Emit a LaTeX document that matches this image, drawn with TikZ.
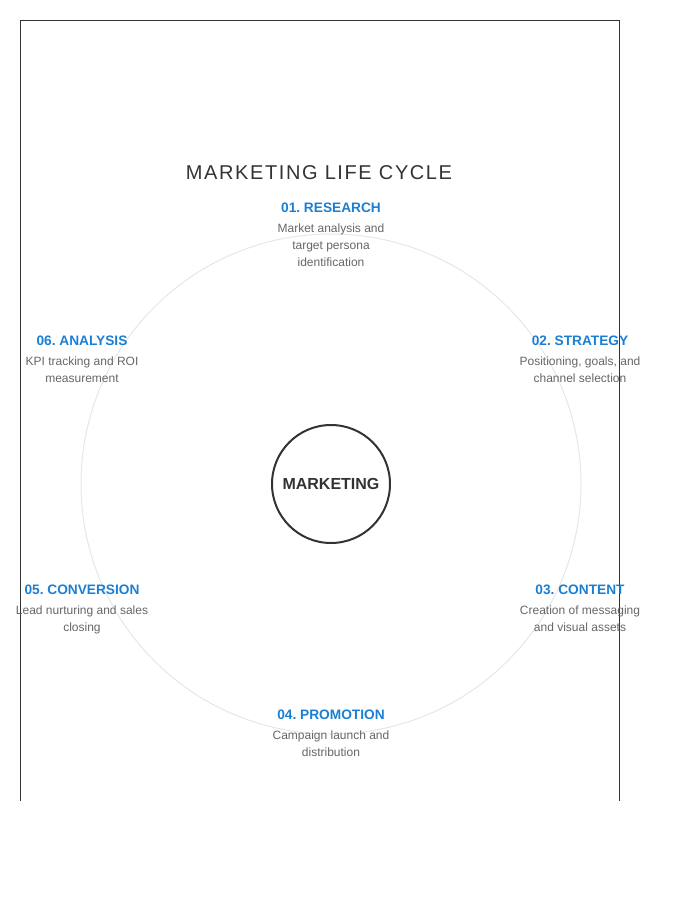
\documentclass[tikz,border=0pt]{standalone}
\usepackage{fontspec}
\setmainfont{Liberation Sans}
\newfontfamily\spacedfont[LetterSpace=8]{Liberation Sans}
\usetikzlibrary{positioning}
\frenchspacing
\definecolor{framegray}{HTML}{333333}
\definecolor{ringgray}{HTML}{E6E6E6}
\definecolor{stepblue}{HTML}{1A7FD4}
\definecolor{descgray}{HTML}{666666}
\tikzset{
	steptitle/.style={text=stepblue, font=\fontsize{13.7}{16}\selectfont\bfseries, inner sep=0pt},
	stepdesc/.style={text=descgray, font=\fontsize{12}{17}\selectfont, align=center, inner sep=0pt, below=11pt of #1},
	hub/.style={circle, draw=framegray, line width=2pt, minimum size=118pt, inner sep=0pt, text=framegray, font=\fontsize{16}{19}\selectfont\bfseries}
}

\begin{document}
\begin{tikzpicture}[x=1pt, y=-1pt]
			%%%%% START %%%%%
			
			\useasboundingbox (0, 0) rectangle (700, 900);
			
			\draw[line width=0.9pt, color=framegray] (20, 801) -- (20, 20) -- (619, 20) -- (619, 801);
			
			\draw[line width=1pt, color=ringgray] (331, 484) circle (250);
			\node[hub] (hub) at (331, 484) {MARKETING};
			
			\node[text=framegray, font=\spacedfont\fontsize{20}{24}\selectfont, inner sep=0pt] (title) at (319, 173) {MARKETING LIFE CYCLE};
			
			\node[steptitle] (research) at (331, 208) {01. RESEARCH};
			\node[stepdesc=research] (researchdesc) {Market analysis and\\target persona\\identification};
			
			\node[steptitle] (strategy) at (580, 341) {02. STRATEGY};
			\node[stepdesc=strategy] (strategydesc) {Positioning, goals, and\\channel selection};
			
			\node[steptitle] (content) at (580, 590) {03. CONTENT};
			\node[stepdesc=content] (contentdesc) {Creation of messaging\\and visual assets};
			
			\node[steptitle] (promotion) at (331, 715) {04. PROMOTION};
			\node[stepdesc=promotion] (promotiondesc) {Campaign launch and\\distribution};
			
			\node[steptitle] (conversion) at (82, 590) {05. CONVERSION};
			\node[stepdesc=conversion] (conversiondesc) {Lead nurturing and sales\\closing};
			
			\node[steptitle] (analysis) at (82, 341) {06. ANALYSIS};
			\node[stepdesc=analysis] (analysisdesc) {KPI tracking and ROI\\measurement};
			
			%%%%% END %%%%%
		\end{tikzpicture}
\end{document}
